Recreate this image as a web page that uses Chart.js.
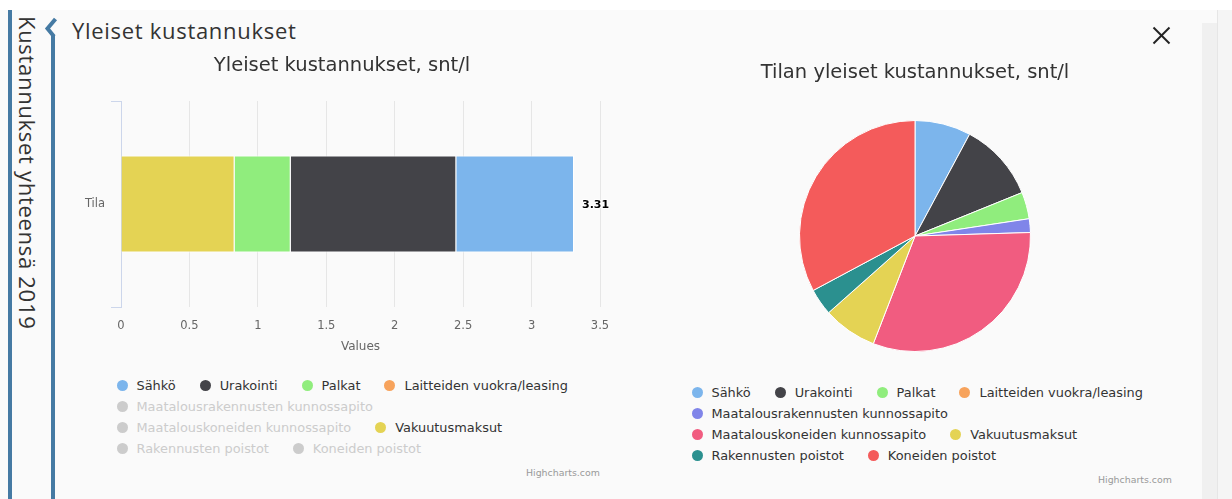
<!DOCTYPE html>
<html>
<head>
<meta charset="utf-8">
<script src="https://cdn.jsdelivr.net/npm/chart.js@4.4.0/dist/chart.umd.min.js"></script>
<style>
html,body{margin:0;padding:0;}
body{width:1232px;height:499px;position:relative;background:#ffffff;overflow:hidden;font-family:"DejaVu Sans",sans-serif;}
#panel{position:absolute;left:0;top:10px;width:1232px;height:489px;background:#fafafa;}
.abs{position:absolute;}
#sideText{left:15px;top:16px;writing-mode:vertical-rl;font-family:"Open Sans",sans-serif;font-size:22px;letter-spacing:0.7px;line-height:26px;color:#333;white-space:nowrap;}
#mainTitle{left:72px;top:15px;font-family:"Open Sans",sans-serif;font-size:22px;letter-spacing:0.7px;line-height:30px;color:#333;white-space:nowrap;}
.legend{position:absolute;width:500px;display:flex;flex-wrap:wrap;column-gap:21.5px;font-family:"DejaVu Sans",sans-serif;font-size:12.9px;color:#333;}
.item{display:flex;align-items:center;height:21px;white-space:nowrap;}
.sym{width:16px;height:21px;display:flex;align-items:center;justify-content:center;margin-right:6.5px;}
.dot{width:11px;height:11px;border-radius:50%;}
.credit{position:absolute;font-family:"DejaVu Sans",sans-serif;font-size:9.4px;color:#999;white-space:nowrap;}
</style>
</head>
<body>
<div id="panel"></div>
<div class="abs" style="left:1202px;top:23px;width:15px;height:476px;background:#f0f0f0;"></div>
<div class="abs" style="left:1217px;top:10px;width:1px;height:489px;background:#e6e6e6;"></div>
<div class="abs" style="left:1218px;top:10px;width:14px;height:489px;background:#f5f5f5;"></div>
<svg class="abs" style="left:0;top:0;" width="70" height="499">
  <rect x="8" y="10" width="4" height="489" fill="#457aa3"/>
  <polyline points="55.5,19 47.5,28.5 54,36.5" fill="none" stroke="#457aa3" stroke-width="4" stroke-linejoin="miter"/>
  <rect x="51" y="35" width="4" height="464" fill="#457aa3"/>
</svg>
<div id="sideText" class="abs">Kustannukset yhteensä 2019</div>
<div id="mainTitle" class="abs">Yleiset kustannukset</div>
<svg class="abs" style="left:1152px;top:26px;" width="19" height="19">
  <line x1="1.5" y1="1.5" x2="17.5" y2="17.5" stroke="#222" stroke-width="2"/>
  <line x1="17.5" y1="1.5" x2="1.5" y2="17.5" stroke="#222" stroke-width="2"/>
</svg>

<canvas id="barChart" class="abs" style="left:62px;top:40px;" width="560" height="317"></canvas>
<canvas id="pieChart" class="abs" style="left:685px;top:50px;" width="460" height="302"></canvas>

<div id="legendLeft" class="legend" style="left:114px;top:375px;"></div>
<div id="legendRight" class="legend" style="left:689px;top:382px;"></div>
<div class="credit" style="left:526px;top:467px;">Highcharts.com</div>
<div class="credit" style="left:1098px;top:474px;">Highcharts.com</div>

<script>
// ---- Data ----
const seriesNames = ['Sähkö','Urakointi','Palkat','Laitteiden vuokra/leasing','Maatalousrakennusten kunnossapito','Maatalouskoneiden kunnossapito','Vakuutusmaksut','Rakennusten poistot','Koneiden poistot'];
const seriesColors = ['#7cb5ec','#434348','#90ed7d','#f7a35c','#8085e9','#f15c80','#e4d354','#2b908f','#f45b5b'];
const barCategories = ['Tila'];
const barValues = [0.86, 1.21, 0.41, 0, 0.21, 3.44, 0.83, 0.41, 3.60];
const barHidden = [false, false, false, false, true, true, false, true, true];
const pieValues = [0.86, 1.21, 0.41, 0, 0.21, 3.44, 0.83, 0.41, 3.60];
const xTickMin = 0, xTickMax = 3.5, xTickStep = 0.5;
const barTitle = 'Yleiset kustannukset, snt/l';
const pieTitle = 'Tilan yleiset kustannukset, snt/l';
const xAxisTitle = 'Values';

const FONT = '"DejaVu Sans", sans-serif';
Chart.defaults.font.family = FONT;

// ---- Bar chart ----
const barDatasets = [];
for (let i = seriesNames.length - 1; i >= 0; i--) {
  barDatasets.push({
    label: seriesNames[i],
    data: [barValues[i]],
    backgroundColor: seriesColors[i],
    borderColor: '#ffffff',
    borderWidth: 1,
    hidden: barHidden[i],
    barPercentage: 0.47,
    categoryPercentage: 1.0
  });
}

const totalLabel = {
  id: 'totalLabel',
  afterDatasetsDraw(chart) {
    const ctx = chart.ctx, xs = chart.scales.x, ys = chart.scales.y;
    chart.data.labels.forEach((c, i) => {
      let sum = 0;
      chart.data.datasets.forEach((d, di) => { if (chart.isDatasetVisible(di)) sum += d.data[i]; });
      const x = xs.getPixelForValue(sum) + 8;
      const y = ys.getPixelForValue(i) + 1;
      const txt = sum.toFixed(2);
      ctx.save();
      ctx.font = 'bold 11px ' + FONT;
      ctx.textAlign = 'left';
      ctx.textBaseline = 'middle';
      ctx.lineJoin = 'round';
      ctx.lineWidth = 2;
      ctx.strokeStyle = '#ffffff';
      ctx.strokeText(txt, x, y);
      ctx.fillStyle = '#000000';
      ctx.fillText(txt, x, y);
      ctx.restore();
    });
  }
};

new Chart(document.getElementById('barChart'), {
  type: 'bar',
  data: { labels: barCategories, datasets: barDatasets },
  options: {
    indexAxis: 'y',
    responsive: false,
    animation: false,
    devicePixelRatio: 1,
    layout: { padding: { left: 22, right: 22, top: 0, bottom: 0 } },
    plugins: {
      legend: { display: false },
      tooltip: { enabled: false },
      title: {
        display: true, text: barTitle, color: '#333333',
        font: { size: 19.5, weight: 'normal', family: FONT },
        padding: { top: 14.5, bottom: 23.1 }
      }
    },
    scales: {
      x: {
        stacked: true, min: xTickMin, max: xTickMax,
        ticks: {
          stepSize: xTickStep, color: '#666666', font: { size: 11.5 }, padding: 12, maxRotation: 0,
          callback: (v) => String(Number(v))
        },
        grid: { color: '#e6e6e6', drawTicks: false },
        border: { display: false },
        title: { display: true, text: xAxisTitle, color: '#666666', font: { size: 12 }, padding: { top: 4, bottom: 3 } },
        afterFit(s) { s.height = 50; }
      },
      y: {
        stacked: true,
        ticks: { color: '#666666', font: { size: 11.5 }, padding: 6 },
        grid: { drawOnChartArea: false, color: '#ccd6eb', tickLength: 10, offset: true },
        border: { color: '#ccd6eb', width: 1 },
        afterFit(s) { s.width = 37; }
      }
    }
  },
  plugins: [totalLabel]
});

// ---- Pie chart ----
new Chart(document.getElementById('pieChart'), {
  type: 'pie',
  data: {
    labels: seriesNames,
    datasets: [{ data: pieValues, backgroundColor: seriesColors, borderColor: '#ffffff', borderWidth: 1 }]
  },
  options: {
    responsive: false,
    animation: false,
    devicePixelRatio: 1,
    layout: { padding: 0 },
    plugins: {
      legend: { display: false },
      tooltip: { enabled: false },
      title: {
        display: true, text: pieTitle, color: '#333333',
        font: { size: 19.5, weight: 'normal', family: FONT },
        padding: { top: 11.3, bottom: 35.3 }
      }
    }
  }
});

// ---- HTML legends ----
function buildLegend(el, hiddenFlags) {
  seriesNames.forEach((name, i) => {
    const hidden = hiddenFlags ? hiddenFlags[i] : false;
    const item = document.createElement('div');
    item.className = 'item';
    const sym = document.createElement('div');
    sym.className = 'sym';
    const dot = document.createElement('div');
    dot.className = 'dot';
    dot.style.background = hidden ? '#cccccc' : seriesColors[i];
    sym.appendChild(dot);
    const t = document.createElement('span');
    t.textContent = name;
    t.style.color = hidden ? '#cccccc' : '#333333';
    item.appendChild(sym);
    item.appendChild(t);
    el.appendChild(item);
  });
}
buildLegend(document.getElementById('legendLeft'), barHidden);
buildLegend(document.getElementById('legendRight'), null);
</script>
</body>
</html>
